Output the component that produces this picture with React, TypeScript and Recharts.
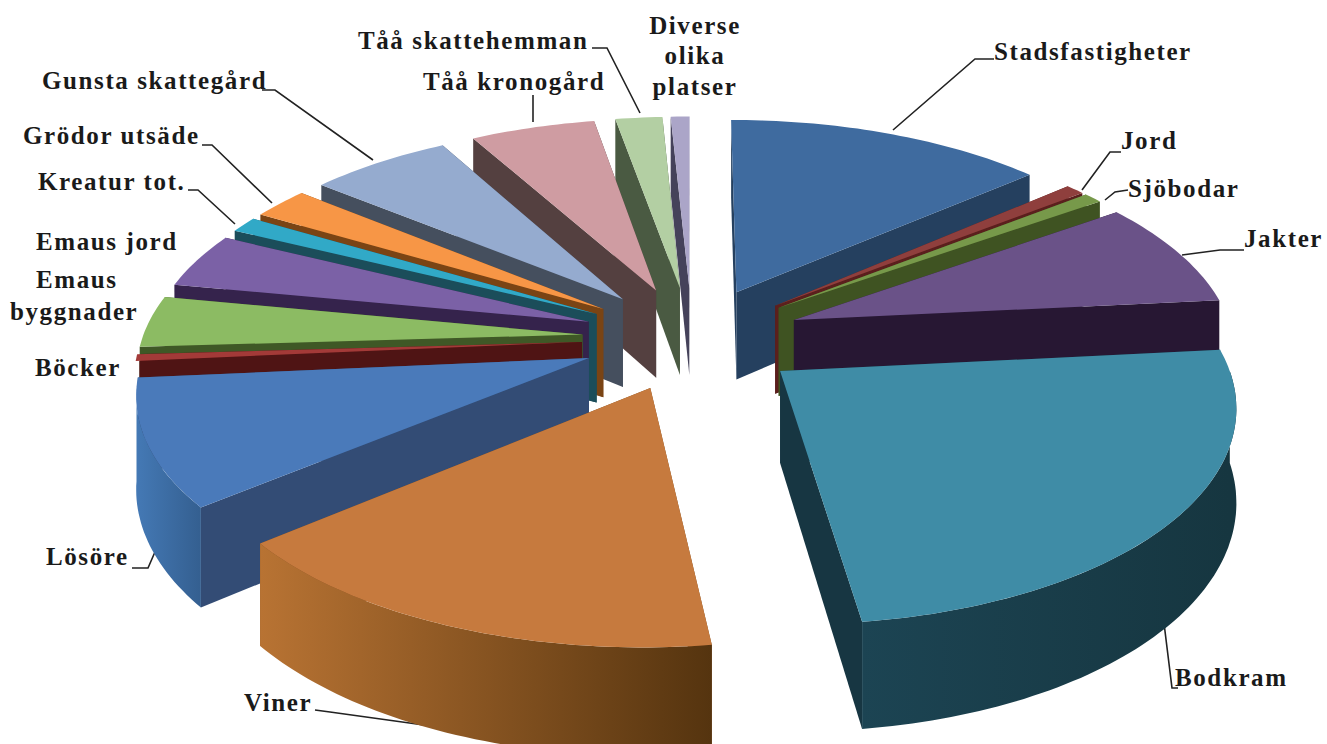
import { PieChart, Pie } from "recharts";

const categories = [
  "Stadsfastigheter", "Jord", "Sjöbodar", "Jakter", "Bodkram", "Viner", "Lösöre", "Böcker",
  "Emaus byggnader", "Emaus jord", "Kreatur tot.", "Grödor utsäde", "Gunsta skattegård",
  "Tåå kronogård", "Tåå skattehemman", "Diverse olika platser",
];
const values = [13.6, 0.8, 0.8, 8.1, 24.4, 16, 9.5, 0.5, 3.9, 4.2, 1.2, 2.4, 6, 5.3, 2, 0.8];

const topColors = ["#3F6B9F", "#8F3F3D", "#77994A", "#6A5288", "#3F8CA6", "#C67A3E", "#4A7ABA", "#A33A38", "#8CBB63", "#7B61A6", "#31A9C7", "#F79646", "#95ABCF", "#CF9CA2", "#B3CFA3", "#ABA5C8"];
const wallColors = ["#25405F", "#5B1F1D", "#3F5322", "#271733", "#173642", "#7A4A1E", "#334C75", "#4F1414", "#3F5826", "#35234C", "#1B4D5A", "#7A4414", "#454F5E", "#544040", "#4A5A42", "#45425A"];
const rimLight = ["#2F5480", "#6B2A28", "#55702F", "#3C2A58", "#1C4453", "#B87333", "#4479B5", "#6B1F1D", "#557A35", "#4A3566", "#23708A", "#B86A28", "#5F7396", "#7A5A5E", "#6A8458", "#6A6590"];
const rimDark = ["#25405F", "#5B1F1D", "#3F5322", "#271733", "#163640", "#55340F", "#345F90", "#4F1414", "#3F5826", "#35234C", "#1B4D5A", "#7A4414", "#454F5E", "#544040", "#4A5A42", "#45425A"];

// back to front, so the nearer slices cover the ones behind them
const drawOrder = [15, 14, 13, 0, 12, 1, 2, 11, 10, 3, 9, 8, 7, 6, 4, 5];

const labelLines = [
  { text: "Stadsfastigheter", x: 994, y: 60, anchor: "start" },
  { text: "Jord", x: 1121, y: 149, anchor: "start" },
  { text: "Sjöbodar", x: 1128, y: 197, anchor: "start" },
  { text: "Jakter", x: 1244, y: 247, anchor: "start" },
  { text: "Bodkram", x: 1175, y: 686, anchor: "start" },
  { text: "Viner", x: 244, y: 711, anchor: "start" },
  { text: "Lösöre", x: 46, y: 565, anchor: "start" },
  { text: "Böcker", x: 35, y: 376, anchor: "start" },
  { text: "Emaus", x: 36, y: 288, anchor: "start" },
  { text: "byggnader", x: 10, y: 320, anchor: "start" },
  { text: "Emaus jord", x: 36, y: 250, anchor: "start" },
  { text: "Kreatur tot.", x: 38, y: 190, anchor: "start" },
  { text: "Grödor utsäde", x: 23, y: 144, anchor: "start" },
  { text: "Gunsta skattegård", x: 42, y: 89, anchor: "start" },
  { text: "Tåå kronogård", x: 423, y: 90, anchor: "start" },
  { text: "Tåå skattehemman", x: 358, y: 49, anchor: "start" },
  { text: "Diverse", x: 695, y: 34, anchor: "middle" },
  { text: "olika", x: 695, y: 64, anchor: "middle" },
  { text: "platser", x: 695, y: 95, anchor: "middle" },
];

const leaders = [
  "994,59 975,59 893,130",
  "1121,152 1110,152 1082,190",
  "1128,190 1115,192 1105,200",
  "1244,250 1220,250 1182,255",
  "1178,688 1172,688 1163,615",
  "315,710 330,712 460,730",
  "132,568 148,568 158,545",
  "188,190 198,190 235,224",
  "202,145 212,145 272,203",
  "262,90 275,90 373,160",
  "533,95 533,122",
  "592,48 607,48 640,113",
];

const rows = categories.map((name, i) => ({ name, value: values[i] }));

const CX = 692;
const CY = 338;
const RADIUS = 440;
const TILT = 208;
const PERSP = 0.139;
const DEPTH = 90;
const EXPLODE = 0.25;
// past this angle the outer wall of a slice is out of sight
const RIM_LIMIT = (262 * Math.PI) / 180;

function Slice({ startAngle, endAngle, index }: any) {
  const from = ((90 - startAngle) * Math.PI) / 180;
  const to = ((90 - endAngle) * Math.PI) / 180;
  const mid = (from + to) / 2;
  const ex = EXPLODE * Math.sin(mid);
  const eu = -EXPLODE * Math.cos(mid);

  const pt = (theta: number, r: number, z: number) => {
    const x = ex + r * Math.sin(theta);
    const u = eu - r * Math.cos(theta);
    const s = 1 / (1 - PERSP * u);
    return `${(CX + x * RADIUS * s).toFixed(1)},${(CY + TILT * u * s + z * DEPTH * s).toFixed(1)}`;
  };
  const arc = (a: number, b: number, z: number) => {
    const out: string[] = [];
    const steps = Math.max(2, Math.ceil(Math.abs(b - a) / 0.02));
    for (let i = 0; i <= steps; i++) out.push(pt(a + ((b - a) * i) / steps, 1, z));
    return out;
  };

  // very thin slices get pulled in a hair so they don't stick out past the nearer one
  const wallR = to - from < 0.05 ? 0.992 : 1;
  const wall = (theta: number) => [pt(0, 0, 0), pt(theta, wallR, 0), pt(theta, wallR, 1), pt(0, 0, 1)].join(" ");
  const farFirst = -Math.cos(from) < -Math.cos(to) ? [from, to] : [to, from];

  const rimFrom = Math.max(from, Math.PI / 2);
  const rimTo = Math.min(to, RIM_LIMIT);
  const hasRim = rimTo > rimFrom;
  const gradId = `rim-${index}`;
  const rimXs = hasRim ? [pt(rimFrom, 1, 0), pt(rimTo, 1, 0)].map((p) => parseFloat(p)) : [0, 1];
  const rimLeft = Math.min(...rimXs);
  const rimRight = Math.max(...rimXs);

  return (
    <g>
      {farFirst.map((theta, i) => (
        <polygon key={i} points={wall(theta)} fill={wallColors[index]} />
      ))}
      {hasRim && (
        <>
          <defs>
            <linearGradient id={gradId} gradientUnits="userSpaceOnUse" x1={rimLeft} x2={rimRight} y1={0} y2={0}>
              <stop offset="0%" stopColor={rimLight[index]} />
              <stop offset="100%" stopColor={rimDark[index]} />
            </linearGradient>
          </defs>
          <polygon
            points={[...arc(rimFrom, rimTo, 0), ...arc(rimTo, rimFrom, 1)].join(" ")}
            fill={`url(#${gradId})`}
          />
        </>
      )}
      <polygon points={[pt(0, 0, 0), ...arc(from, to, 0)].join(" ")} fill={topColors[index]} />
    </g>
  );
}

export default function App() {
  return (
    <div style={{ position: "absolute", left: 0, top: 0, background: "#fff" }}>
      <PieChart width={1327} height={744} margin={{ top: 0, right: 0, bottom: 0, left: 0 }}>
        {drawOrder.map((k) => (
          <Pie
            key={k}
            data={rows}
            dataKey="value"
            nameKey="name"
            cx={CX}
            cy={CY}
            outerRadius={RADIUS}
            startAngle={90}
            endAngle={-270}
            stroke="none"
            isAnimationActive={false}
            shape={(props: any) => (props.index === k ? <Slice {...props} /> : <g />)}
          />
        ))}
        {leaders.map((points, i) => (
          <polyline key={i} points={points} fill="none" stroke="#222" strokeWidth={1.6} />
        ))}
        {labelLines.map((l) => (
          <text
            key={l.text}
            x={l.x}
            y={l.y}
            textAnchor={l.anchor as any}
            fontFamily="'Liberation Serif', serif"
            fontWeight="bold"
            fontSize={25}
            letterSpacing={1.6}
            fill="#1a1a1a"
          >
            {l.text}
          </text>
        ))}
      </PieChart>
    </div>
  );
}
